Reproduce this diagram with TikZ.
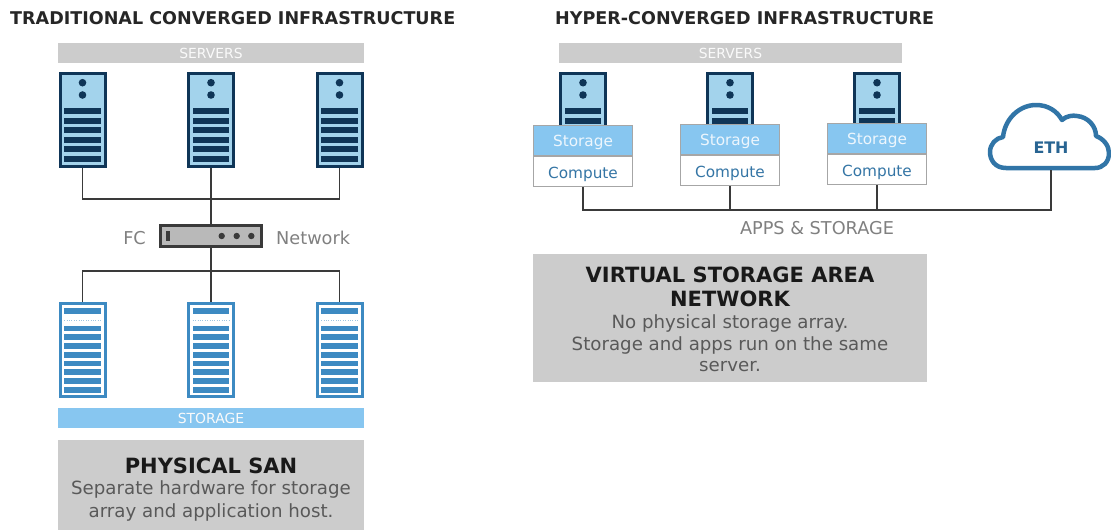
\documentclass[tikz,border=0pt]{standalone}
\usepackage{fontspec}
\setmainfont{DejaVu Sans}
\definecolor{navy}{HTML}{0F3557}
\definecolor{paleblue}{HTML}{A3D3EC}
\definecolor{midblue}{HTML}{3D8AC2}
\definecolor{skyblue}{HTML}{87C6F0}
\definecolor{panelgrey}{HTML}{CCCCCC}
\definecolor{wiregrey}{HTML}{3A3A3A}
\definecolor{labelgrey}{HTML}{808080}
\tikzset{
    banner/.style={minimum height=20pt, inner sep=0pt, text=white!90!panelgrey, font=\fontsize{13.9}{14}\selectfont},
    serverbox/.style={draw=navy, line width=3pt, fill=paleblue, minimum width=45pt, minimum height=93pt, inner sep=0pt},
    storebox/.style={draw=midblue, line width=3pt, fill=white, minimum width=45pt, minimum height=93pt, inner sep=0pt},
    wire/.style={draw=wiregrey, line width=1.8pt},
    tierbox/.style={draw=gray!70, line width=1.2pt, minimum width=99pt, minimum height=30pt, inner sep=0pt, font=\fontsize{15.3}{15}\selectfont},
    heading/.style={anchor=base west, inner sep=0pt, font=\bfseries\fontsize{17.55}{18}\selectfont, text=black!85},
    panel/.style={fill=panelgrey, inner sep=0pt},
    panelhead/.style={font=\bfseries\fontsize{21}{21}\selectfont, text=black!90},
    paneltext/.style={font=\fontsize{18.2}{18}\selectfont, text=black!65},
    note/.style={text=labelgrey, font=\fontsize{17.7}{18}\selectfont},
}
% one server tower, with its name and centre x
\newcommand{\servertower}[2]{
    \node[serverbox] (#1) at (#2, 120) {};
    \fill[navy] (#2, 82.7) circle (3.8) (#2, 95) circle (3.8);
    \foreach \row in {0,...,5}
        \fill[navy] (#2-18.3, 108.2+9.5*\row) rectangle (#2+18.3, 114.2+9.5*\row);
}
% one storage tower
\newcommand{\storagetower}[2]{
    \node[storebox] (#1) at (#2, 350) {};
    \fill[midblue] (#2-18.3, 308) rectangle (#2+18.3, 314);
    \draw[midblue!50, dotted] (#2-18.3, 320) -- (#2+18.3, 320);
    \foreach \row in {0,...,7}
        \fill[midblue] (#2-18.3, 325.7+8.75*\row) rectangle (#2+18.3, 331.4+8.75*\row);
}
% text dropped below the centre of its box
\newcommand{\droptext}[2]{\raisebox{-#1pt}[0pt][0pt]{#2}}
\begin{document}
\begin{tikzpicture}[x=1pt, y=-1pt]
    \useasboundingbox (0, 0) rectangle (1111, 530);
    % left side
    \node[heading] (headA) at (10, 24) {TRADITIONAL CONVERGED INFRASTRUCTURE};
    \node[banner, fill=panelgrey, minimum width=306pt] (srvbarA) at (211, 53) {\droptext{5.5}{SERVERS}};
    \servertower{srvA}{82.5}
    \servertower{srvB}{211}
    \servertower{srvC}{339.5}
    % switch
    \node[draw=wiregrey, line width=3pt, fill=gray!55, minimum width=101pt, minimum height=21pt, inner sep=0pt] (switch) at (211, 236) {};
    \fill[wiregrey] (166, 231) rectangle (170, 241);
    \fill[wiregrey] (221.7, 236) circle (3.2) (236.7, 236) circle (3.2) (251.3, 236) circle (3.2);
    \node[note, anchor=east, inner sep=0pt] (fc) at (146, 238) {FC};
    \node[note, anchor=west, inner sep=0pt] (net) at (276, 238) {Network};
    \storagetower{stoA}{82.5}
    \storagetower{stoB}{211}
    \storagetower{stoC}{339.5}
    \node[banner, fill=skyblue, minimum width=306pt] (stobar) at (211, 418) {\droptext{5.5}{STORAGE}};
    % wires
    \coordinate (busA) at (211, 199);
    \coordinate (busB) at (211, 271);
    \draw[wire] (srvA.south) |- (busA) -| (srvC.south);
    \draw[wire] (srvB.south) -- (switch.north);
    \draw[wire] (switch.south) -- (stoB.north);
    \draw[wire] (stoA.north) |- (busB) -| (stoC.north);
    % panel
    \node[panel, minimum width=306pt, minimum height=90pt] (sanbox) at (211, 485) {};
    \node[panelhead] (santitle) at (211, 466) {PHYSICAL SAN};
    \node[paneltext] (sanone) at (211, 489) {Separate hardware for storage};
    \node[paneltext] (santwo) at (211, 512) {array and application host.};
    % right side
    \node[heading] (headB) at (555, 24) {HYPER-CONVERGED INFRASTRUCTURE};
    \node[banner, fill=panelgrey, minimum width=343pt] (srvbarB) at (730.5, 53) {\droptext{5.5}{SERVERS}};
    \servertower{srvD}{583}
    \servertower{srvE}{730}
    \servertower{srvF}{877}
    \foreach \name/\cx/\cy in {D/583/140.5, E/730/139.5, F/877/138.5} {
        \node[tierbox, fill=white, text=midblue!85!black, anchor=north] (comp\name) at (\cx, \cy+15.5) {\droptext{6.5}{Compute}};
        \node[tierbox, fill=skyblue, text=white!85!skyblue] (store\name) at (\cx, \cy) {\droptext{6}{Storage}};
    }
    % cloud
    \draw[draw=midblue!75!navy, line width=4.5pt, fill=white, line join=round]
        (1006, 168) .. controls (995, 168) and (990, 160) .. (990, 152)
        .. controls (990, 144) and (996, 138) .. (1003, 137)
        .. controls (1005, 118) and (1020, 105) .. (1036, 105)
        .. controls (1048, 105) and (1057, 111) .. (1062, 120)
        .. controls (1066, 116) and (1073, 115) .. (1077, 116)
        .. controls (1088, 117) and (1096, 126) .. (1096, 136)
        .. controls (1104, 139) and (1109, 146) .. (1109, 153)
        .. controls (1109, 162) and (1103, 168) .. (1095, 168)
        -- cycle;
    \node[font=\bfseries\fontsize{15.9}{16}\selectfont, text=midblue!55!navy] (eth) at (1051, 147.5) {ETH};
    \coordinate (cloudfoot) at (1051, 170);
    \coordinate (busC) at (730, 210);
    \draw[wire] (compD.south) |- (busC) -| (cloudfoot);
    \draw[wire] (compE.south) -- (busC);
    \draw[wire] (compF.south) -- (compF.south |- busC);
    \node[note] (apps) at (817, 228) {APPS \& STORAGE};
    % panel
    \node[panel, minimum width=394pt, minimum height=128pt] (vsanbox) at (730, 318) {};
    \node[panelhead] (vsanone) at (730, 275) {VIRTUAL STORAGE AREA};
    \node[panelhead] (vsantwo) at (730, 298.5) {NETWORK};
    \node[paneltext] (vsanthree) at (730, 323) {No physical storage array.};
    \node[paneltext] (vsanfour) at (730, 345) {Storage and apps run on the same};
    \node[paneltext] (vsanfive) at (730, 367) {server.};
\end{tikzpicture}
\end{document}
